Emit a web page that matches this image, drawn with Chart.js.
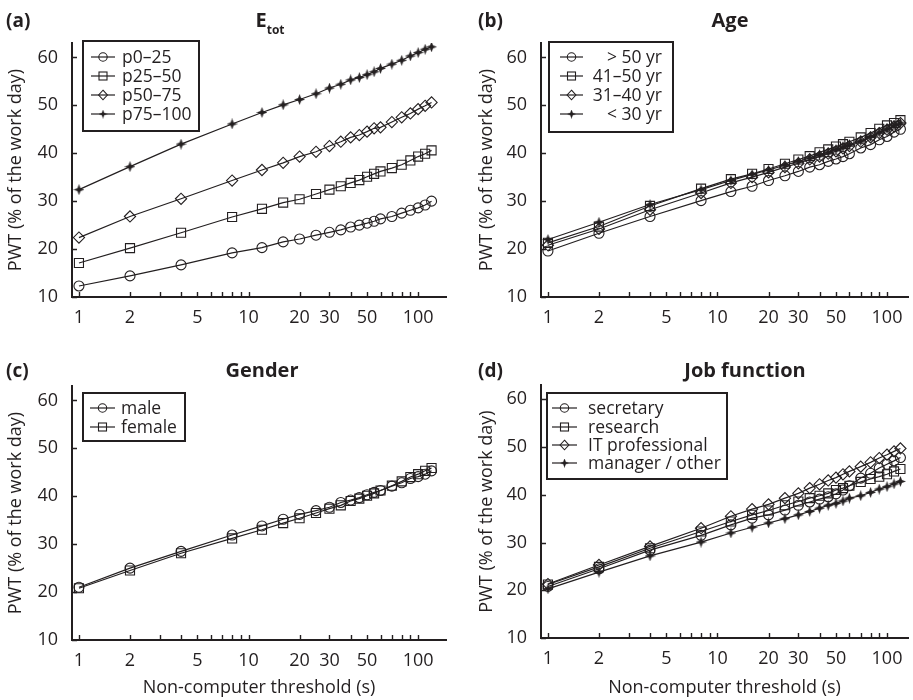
<!DOCTYPE html>
<html>
<head>
<meta charset="utf-8">
<script src="https://cdn.jsdelivr.net/npm/chart.js@4.4.1/dist/chart.umd.min.js"></script>
<style>
body{margin:0;background:#fff;width:913px;height:700px;position:relative;overflow:hidden}
canvas{position:absolute}
</style>
</head>
<body>
<canvas id="ca" width="456" height="330" style="left:0;top:0"></canvas>
<canvas id="cb" width="457" height="330" style="left:456px;top:0"></canvas>
<canvas id="cc" width="456" height="370" style="left:0;top:330px"></canvas>
<canvas id="cd" width="457" height="370" style="left:456px;top:330px"></canvas>
<script>
// non-computer thresholds (s)
let thresholds=[1,2,4,8,12,16,20,25,30,35,40,45,50,55,60,70,80,90,100,110,120]

// (a) E_tot quartiles
let etotLabels=["p0–25","p25–50","p50–75","p75–100"]
let etotP0=[12.3,14.4,16.7,19.2,20.3,21.5,22.1,22.9,23.5,24.0,24.6,25.0,25.4,25.8,26.3,26.8,27.5,28.1,28.6,29.2,30.0]
let etotP25=[17.1,20.2,23.4,26.7,28.4,29.7,30.4,31.5,32.4,33.1,33.8,34.4,35.1,35.7,36.2,36.9,37.6,38.5,39.3,39.9,40.6]
let etotP50=[22.4,26.8,30.5,34.3,36.5,38.0,39.3,40.3,41.5,42.4,43.3,43.8,44.5,45.2,45.4,46.5,47.5,48.3,49.2,49.9,50.6]
let etotP75=[32.4,37.2,41.9,46.1,48.5,50.1,51.2,52.4,53.6,54.4,55.3,55.8,56.4,57.0,57.7,58.6,59.4,60.3,61.0,61.7,62.2]

// (b) age
let ageLabels=["> 50 yr","41–50 yr","31–40 yr","< 30 yr"]
let ageOver50=[19.6,23.3,26.8,30.1,32.0,33.1,34.3,35.3,36.2,37.1,37.6,38.3,38.8,39.3,39.9,41.1,41.8,42.8,43.5,44.4,45.0]
let age41=[21.3,24.7,29.0,32.6,34.6,35.7,36.7,37.8,38.7,39.4,40.2,40.8,41.4,41.9,42.4,43.3,44.2,45.1,45.8,46.3,46.9]
let age31=[20.8,24.2,28.2,31.7,33.8,35.0,36.0,37.1,37.9,38.7,39.3,39.9,40.4,41.0,41.5,42.4,43.3,44.2,44.9,45.6,46.3]
let ageUnder30=[22.0,25.6,29.3,32.4,34.3,35.6,36.5,37.5,38.3,39.0,39.7,40.2,40.8,41.3,41.8,42.6,43.5,44.4,45.1,45.8,46.3]

// (c) gender
let genderLabels=["male","female"]
let male=[21.0,25.0,28.5,31.9,33.8,35.2,36.2,37.0,37.7,38.7,39.2,39.7,40.3,40.8,41.2,42.1,42.8,43.7,44.1,44.6,45.3]
let female=[20.8,24.5,28.1,31.2,33.0,34.4,35.4,36.5,37.4,38.1,39.0,39.5,40.1,40.6,41.2,42.2,43.1,44.0,44.6,45.3,45.9]

// (d) job function
let jobLabels=["secretary","research","IT professional","manager / other"]
let secretary=[20.8,24.5,28.4,31.5,33.7,35.1,35.8,36.8,37.8,38.5,39.1,39.6,40.2,41.0,41.9,43.5,44.5,45.6,46.4,47.1,47.8]
let research=[21.2,24.9,28.8,32.3,34.4,35.8,36.7,37.8,38.6,39.3,39.8,40.3,41.0,41.4,41.9,42.7,43.3,43.8,44.3,44.9,45.4]
let itPro=[21.3,25.3,29.2,33.0,35.5,37.0,38.0,39.3,40.3,41.4,42.2,43.0,43.6,44.3,44.9,45.9,46.8,47.7,48.4,49.1,49.7]
let manager=[20.3,23.8,27.2,30.1,32.0,33.2,34.1,35.0,35.8,36.5,37.2,37.8,38.2,38.7,39.3,39.8,40.5,41.2,41.7,42.3,42.8]

let yTicks=[10,20,30,40,50,60]
let xTickLabels=[1,2,5,10,20,30,50,100]
let xMinor=[1,2,3,4,5,6,7,8,9,10,20,30,40,50,60,70,80,90,100]

let ink="#231f20"
let font="'Open Sans', sans-serif"

// 4-point star marker
let starImg=document.createElement("canvas")
starImg.width=11;starImg.height=11
let sc=starImg.getContext("2d")
sc.fillStyle=ink
sc.beginPath()
sc.moveTo(5.5,0);sc.lineTo(7,4);sc.lineTo(11,5.5);sc.lineTo(7,7)
sc.lineTo(5.5,11);sc.lineTo(4,7);sc.lineTo(0,5.5);sc.lineTo(4,4)
sc.closePath();sc.fill()

let styles=["circle","rect","rectRot",starImg]
let radii={circle:5,rect:6.4,rectRot:5.6}

let drawMarker=(ctx,style,x,y)=>{
    ctx.save()
    ctx.strokeStyle=ink;ctx.lineWidth=1.1
    if(style===starImg){
        ctx.drawImage(starImg,x-4.5,y-4.5,9,9)
    }else if(style==="circle"){
        ctx.beginPath();ctx.arc(x,y,4.2,0,Math.PI*2);ctx.stroke()
    }else if(style==="rect"){
        ctx.strokeRect(x-4,y-4,8,8)
    }else{
        ctx.beginPath();ctx.moveTo(x,y-4.8);ctx.lineTo(x+4.4,y);ctx.lineTo(x,y+4.8);ctx.lineTo(x-4.4,y);ctx.closePath();ctx.stroke()
    }
    ctx.restore()
}

let decor={
    id:"decor",
    afterDraw(chart,args,o){
        let ctx=chart.ctx
        let xs=chart.scales.x,ys=chart.scales.y
        ctx.save()
        // inward ticks
        ctx.strokeStyle=ink;ctx.lineWidth=1.4
        ctx.beginPath()
        yTicks.forEach(v=>{
            let py=Math.round(ys.getPixelForValue(v))+0.5
            ctx.moveTo(xs.left,py);ctx.lineTo(xs.left+5,py)
        })
        xMinor.forEach(v=>{
            let px=Math.round(xs.getPixelForValue(v))+0.5
            ctx.moveTo(px,ys.bottom);ctx.lineTo(px,ys.bottom-5)
        })
        ctx.stroke()
        // panel letter and title
        ctx.fillStyle=ink
        ctx.textBaseline="alphabetic"
        ctx.font="bold 19px "+font
        ctx.textAlign="left"
        ctx.fillText(o.letter,o.letterX,o.titleY)
        if(o.sub){
            ctx.font="bold 20px "+font
            let w1=ctx.measureText(o.title).width
            ctx.font="bold 12px "+font
            let w2=ctx.measureText(o.sub).width
            let x0=o.titleX-(w1+w2)/2
            ctx.font="bold 20px "+font
            ctx.fillText(o.title,x0,o.titleY)
            ctx.font="bold 12px "+font
            ctx.fillText(o.sub,x0+w1,o.titleY+7)
        }else{
            ctx.font="bold 20px "+font
            ctx.textAlign="center"
            ctx.fillText(o.title,o.titleX,o.titleY)
        }
        // legend
        let lg=o.legend
        ctx.lineWidth=2
        ctx.strokeRect(lg.x,lg.y,lg.w,lg.h)
        ctx.font="17.5px "+font
        ctx.textBaseline="middle"
        chart.data.datasets.forEach((ds,i)=>{
            let ry=lg.rows[i]
            ctx.lineWidth=1.2
            ctx.beginPath();ctx.moveTo(lg.l1,ry);ctx.lineTo(lg.l2,ry);ctx.stroke()
            drawMarker(ctx,ds.pointStyle,(lg.l1+lg.l2)/2,ry)
            ctx.fillStyle=ink
            ctx.textAlign=lg.right?"right":"left"
            ctx.fillText(ds.label,lg.tx,ry+1)
        })
        ctx.restore()
    }
}

let makePanel=(id,labels,series,p)=>{
    let datasets=series.map((vals,i)=>{
        let st=styles[i]
        return {
            label:labels[i],
            data:thresholds.map((t,j)=>({x:t,y:vals[j]})),
            borderColor:ink,
            borderWidth:1.2,
            backgroundColor:"rgba(0,0,0,0)",
            pointStyle:st,
            pointRadius:st===starImg?5:radii[st],
            pointBorderWidth:1.1,
            pointBorderColor:ink,
            pointBackgroundColor:"rgba(0,0,0,0)",
            tension:0
        }
    })
    return new Chart(document.getElementById(id),{
        type:"line",
        data:{datasets},
        plugins:[decor],
        options:{
            responsive:false,
            animation:false,
            events:[],
            layout:{autoPadding:false,padding:{left:p.padL,top:p.top,right:p.padR,bottom:0}},
            plugins:{legend:{display:false},tooltip:{enabled:false},decor:p.decor},
            scales:{
                x:{
                    type:"logarithmic",min:0.91,max:p.xMax,
                    afterBuildTicks:s=>{s.ticks=xTickLabels.map(v=>({value:v}))},
                    afterFit:s=>{s.height=p.xH},
                    grid:{display:false},
                    border:{display:true,color:ink,width:2},
                    ticks:{color:ink,font:{family:font,size:18},padding:2,maxRotation:0,autoSkip:false,callback:v=>String(v)},
                    title:{display:!!p.xTitle,text:p.xTitle||"",color:ink,font:{family:font,size:18},padding:{top:0,bottom:1}}
                },
                y:{
                    type:"linear",min:10,max:63,
                    afterBuildTicks:s=>{s.ticks=yTicks.map(v=>({value:v}))},
                    afterFit:s=>{s.width=p.yW},
                    grid:{display:false},
                    border:{display:true,color:ink,width:2},
                    ticks:{color:ink,font:{family:font,size:18},padding:6},
                    title:{display:true,text:"PWT (% of the work day)",color:ink,font:{family:font,size:18},padding:{top:5,bottom:0}}
                }
            }
        }
    })
}

makePanel("ca",etotLabels,[etotP0,etotP25,etotP50,etotP75],{
    padL:0,padR:10,top:43,xH:33,yW:72,xMax:146,
    decor:{letter:"(a)",letterX:6,title:"E",sub:"tot",titleX:270,titleY:27,
        legend:{x:83,y:41,w:116,h:90,rows:[57,76,95,114],l1:91,l2:115,tx:122}}
})
makePanel("cb",ageLabels,[ageOver50,age41,age31,ageUnder30],{
    padL:15,padR:5,top:43,xH:33,yW:70,xMax:133,
    decor:{letter:"(b)",letterX:22,title:"Age",titleX:274,titleY:27,
        legend:{x:93,y:42,w:124,h:90,rows:[57,76,95,114],l1:104,l2:127,tx:206,right:true}}
})
makePanel("cc",genderLabels,[male,female],{
    padL:0,padR:10,top:56,xH:60,yW:72,xMax:146,xTitle:"Non-computer threshold (s)",
    decor:{letter:"(c)",letterX:6,title:"Gender",titleX:262,titleY:47,
        legend:{x:83,y:63,w:102,h:48,rows:[78,97],l1:90,l2:115,tx:121}}
})
makePanel("cd",jobLabels,[secretary,research,itPro,manager],{
    padL:15,padR:5,top:55,xH:62,yW:70,xMax:133,xTitle:"Non-computer threshold (s)",
    decor:{letter:"(d)",letterX:22,title:"Job function",titleX:289,titleY:47,
        legend:{x:91,y:63,w:180,h:86,rows:[78,97,115,133],l1:96,l2:121,tx:132}}
})
</script>
</body>
</html>
